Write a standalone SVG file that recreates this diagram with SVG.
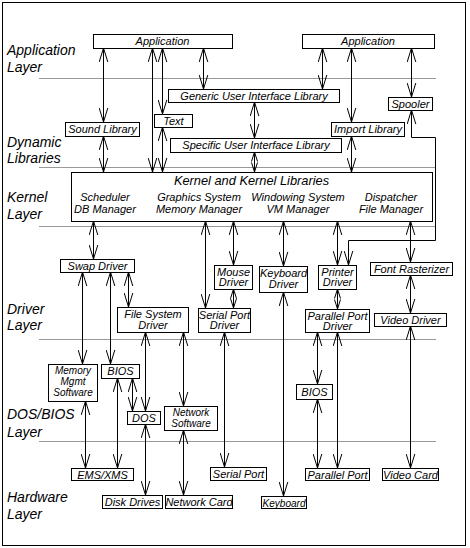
<svg xmlns="http://www.w3.org/2000/svg" width="470" height="548" viewBox="0 0 470 548">
<style>
.n rect{fill:#fff;stroke:#000;stroke-width:1}
.n text,.k text{font-family:"Liberation Sans",Arial,sans-serif;font-style:italic;font-size:11px;text-anchor:middle;fill:#000}
.n text.sm{font-size:10px}
.lay{font-family:"Liberation Sans",Arial,sans-serif;font-style:italic;font-size:14px;fill:#000}
.sep line{stroke:#999;stroke-width:1}
#connectors path{fill:none;stroke:#000;stroke-width:1}
.a{marker-start:url(#ah);marker-end:url(#ah)}
.s{marker-start:url(#sh);marker-end:url(#sh)}
</style>
<defs>
<marker id="ah" markerUnits="userSpaceOnUse" viewBox="-15 -5 16 10" markerWidth="16" markerHeight="10" refX="0" refY="0" orient="auto-start-reverse"><path d="M-14,-4.3 L0,0 L-14,4.3" fill="none" stroke="#000" stroke-width="1"/></marker>
<marker id="sh" markerUnits="userSpaceOnUse" viewBox="-10 -4 11 8" markerWidth="11" markerHeight="8" refX="0" refY="0" orient="auto-start-reverse"><path d="M-9.5,-3 L0,0 L-9.5,3" fill="none" stroke="#000" stroke-width="1"/></marker>
</defs>
<rect x="2.5" y="2.5" width="463" height="543" fill="#fff" stroke="#000" stroke-width="1"/>
<g class="sep">
<line x1="39" y1="78.5" x2="436" y2="78.5"/>
<line x1="39" y1="167.5" x2="436" y2="167.5"/>
<line x1="39" y1="226.5" x2="436" y2="226.5"/>
<line x1="39" y1="339.5" x2="436" y2="339.5"/>
<line x1="39" y1="441.5" x2="436" y2="441.5"/>
</g>
<g id="layer-labels">
<text class="lay" x="7" y="55">Application</text>
<text class="lay" x="7" y="72">Layer</text>
<text class="lay" x="7" y="147">Dynamic</text>
<text class="lay" x="7" y="163">Libraries</text>
<text class="lay" x="7" y="202">Kernel</text>
<text class="lay" x="7" y="219">Layer</text>
<text class="lay" x="7" y="314">Driver</text>
<text class="lay" x="7" y="330">Layer</text>
<text class="lay" x="7" y="419">DOS/BIOS</text>
<text class="lay" x="7" y="437">Layer</text>
<text class="lay" x="7" y="502">Hardware</text>
<text class="lay" x="7" y="519">Layer</text>
</g>
<g id="connectors">
<path class="a" d="M103.5,48 V122"/>
<path class="a" d="M152.5,48 V172"/>
<path class="a" d="M162.5,48 V114"/>
<path class="a" d="M162.5,127 V172"/>
<path class="a" d="M203.5,48 V89"/>
<path class="a" d="M254.5,102 V138"/>
<path class="s" d="M254.5,152 V172"/>
<path class="a" d="M322.5,48 V89"/>
<path class="a" d="M351.5,48 V122"/>
<path class="a" d="M411.5,48 V97"/>
<path class="a" d="M351.5,136 V172"/>
<path class="a" d="M103.5,136 V172"/>
<path class="a" d="M411.5,110 V137.5 H435.5 V240.5 H348.5 V265"/>
<path class="a" d="M93.5,221 V259"/>
<path class="a" d="M205.5,221 V308"/>
<path class="a" d="M233.5,221 V265"/>
<path class="a" d="M283.5,221 V266"/>
<path class="a" d="M337.5,221 V265"/>
<path class="a" d="M410.5,221 V262"/>
<path class="a" d="M410.5,275 V313"/>
<path class="a" d="M410.5,326 V468"/>
<path class="s" d="M233.5,289 V308"/>
<path class="s" d="M337.5,289 V309"/>
<path class="a" d="M317.5,332 V384"/>
<path class="a" d="M337.5,332 V468"/>
<path class="a" d="M317.5,399 V468"/>
<path class="a" d="M283.5,292 V496"/>
<path class="a" d="M224.5,332 V467"/>
<path class="a" d="M82.5,272 V364"/>
<path class="a" d="M110.5,272 V364"/>
<path class="a" d="M128.5,272 V307"/>
<path class="a" d="M145.5,332 V411"/>
<path class="a" d="M183.5,332 V406"/>
<path class="a" d="M132.5,378 V411"/>
<path class="a" d="M117.5,378 V468"/>
<path class="a" d="M85.5,401 V468"/>
<path class="a" d="M145.5,424 V495"/>
<path class="a" d="M183.5,430 V495"/>
</g>
<g id="app1" class="n"><rect x="93.5" y="34.5" width="139" height="14"/><text x="162.5" y="45">Application</text></g>
<g id="app2" class="n"><rect x="302.5" y="34.5" width="132" height="14"/><text x="368" y="45">Application</text></g>
<g id="generic-ui" class="n"><rect x="168.5" y="89.5" width="171" height="13"/><text x="254" y="99.5">Generic User Interface Library</text></g>
<g id="text" class="n"><rect x="154.5" y="114.5" width="38" height="13"/><text x="173.5" y="124.5">Text</text></g>
<g id="sound" class="n"><rect x="65.5" y="122.5" width="74" height="14"/><text x="102.5" y="133">Sound Library</text></g>
<g id="import" class="n"><rect x="331.5" y="122.5" width="73" height="14"/><text x="368" y="133">Import Library</text></g>
<g id="spooler" class="n"><rect x="388.5" y="97.5" width="44" height="13"/><text x="410.5" y="107.5">Spooler</text></g>
<g id="specific-ui" class="n"><rect x="170.5" y="138.5" width="171" height="14"/><text x="256" y="149">Specific User Interface Library</text></g>
<g id="kernel" class="n k"><rect x="71.5" y="172.5" width="361" height="49"/>
<text x="251.5" y="185" style="font-size:12.8px">Kernel and Kernel Libraries</text>
<text x="105" y="201">Scheduler</text><text x="105" y="213">DB Manager</text>
<text x="199" y="201">Graphics System</text><text x="199" y="213">Memory Manager</text>
<text x="298" y="201">Windowing System</text><text x="298" y="213">VM Manager</text>
<text x="391" y="201">Dispatcher</text><text x="391" y="213">File Manager</text></g>
<g id="swap" class="n"><rect x="60.5" y="259.5" width="74" height="13"/><text x="97.5" y="269.5">Swap Driver</text></g>
<g id="mouse" class="n"><rect x="214.5" y="265.5" width="38" height="24"/><text x="233.5" y="275.5">Mouse</text><text x="233.5" y="286">Driver</text></g>
<g id="keyboard-driver" class="n"><rect x="259.5" y="266.5" width="48" height="26"/><text x="283.5" y="277">Keyboard</text><text x="283.5" y="288">Driver</text></g>
<g id="printer" class="n"><rect x="318.5" y="265.5" width="38" height="24"/><text x="337.5" y="275.5">Printer</text><text x="337.5" y="286">Driver</text></g>
<g id="font" class="n"><rect x="370.5" y="262.5" width="82" height="13"/><text x="411.5" y="272.5">Font Rasterizer</text></g>
<g id="video-driver" class="n"><rect x="374.5" y="313.5" width="72" height="13"/><text x="410.5" y="323.5">Video Driver</text></g>
<g id="parallel-driver" class="n"><rect x="305.5" y="309.5" width="64" height="23"/><text x="337.5" y="319.5">Parallel Port</text><text x="337.5" y="330">Driver</text></g>
<g id="serial-driver" class="n"><rect x="198.5" y="308.5" width="52" height="24"/><text x="224.5" y="318.5">Serial Port</text><text x="224.5" y="329">Driver</text></g>
<g id="fs-driver" class="n"><rect x="117.5" y="307.5" width="71" height="25"/><text x="153" y="317.5">File System</text><text x="153" y="328.5">Driver</text></g>
<g id="memory" class="n"><rect x="48.5" y="364.5" width="49" height="37"/><text class="sm" x="73" y="374">Memory</text><text class="sm" x="73" y="384.5">Mgmt</text><text class="sm" x="73" y="395.5">Software</text></g>
<g id="bios1" class="n"><rect x="101.5" y="364.5" width="38" height="14"/><text x="120.5" y="375">BIOS</text></g>
<g id="dos" class="n"><rect x="127.5" y="411.5" width="33" height="13"/><text x="144" y="421.5">DOS</text></g>
<g id="net-sw" class="n"><rect x="164.5" y="406.5" width="53" height="24"/><text class="sm" x="191" y="416">Network</text><text class="sm" x="191" y="427">Software</text></g>
<g id="bios2" class="n"><rect x="296.5" y="384.5" width="36" height="15"/><text x="314.5" y="395.5">BIOS</text></g>
<g id="ems" class="n"><rect x="71.5" y="468.5" width="62" height="12"/><text x="102.5" y="478.5">EMS/XMS</text></g>
<g id="disk" class="n"><rect x="102.5" y="495.5" width="60" height="13"/><text x="132.5" y="505.5">Disk Drives</text></g>
<g id="net-card" class="n"><rect x="165.5" y="495.5" width="67" height="13"/><text x="199" y="505.5">Network Card</text></g>
<g id="serial" class="n"><rect x="210.5" y="467.5" width="56" height="13"/><text x="238.5" y="477.5">Serial Port</text></g>
<g id="parallel" class="n"><rect x="305.5" y="468.5" width="64" height="12"/><text x="337.5" y="478.5">Parallel Port</text></g>
<g id="video-card" class="n"><rect x="382.5" y="468.5" width="56" height="12"/><text x="410.5" y="478.5">Video Card</text></g>
<g id="keyboard" class="n"><rect x="261.5" y="496.5" width="45" height="12"/><text x="284" y="506.5" textLength="43" lengthAdjust="spacingAndGlyphs">Keyboard</text></g>
</svg>
